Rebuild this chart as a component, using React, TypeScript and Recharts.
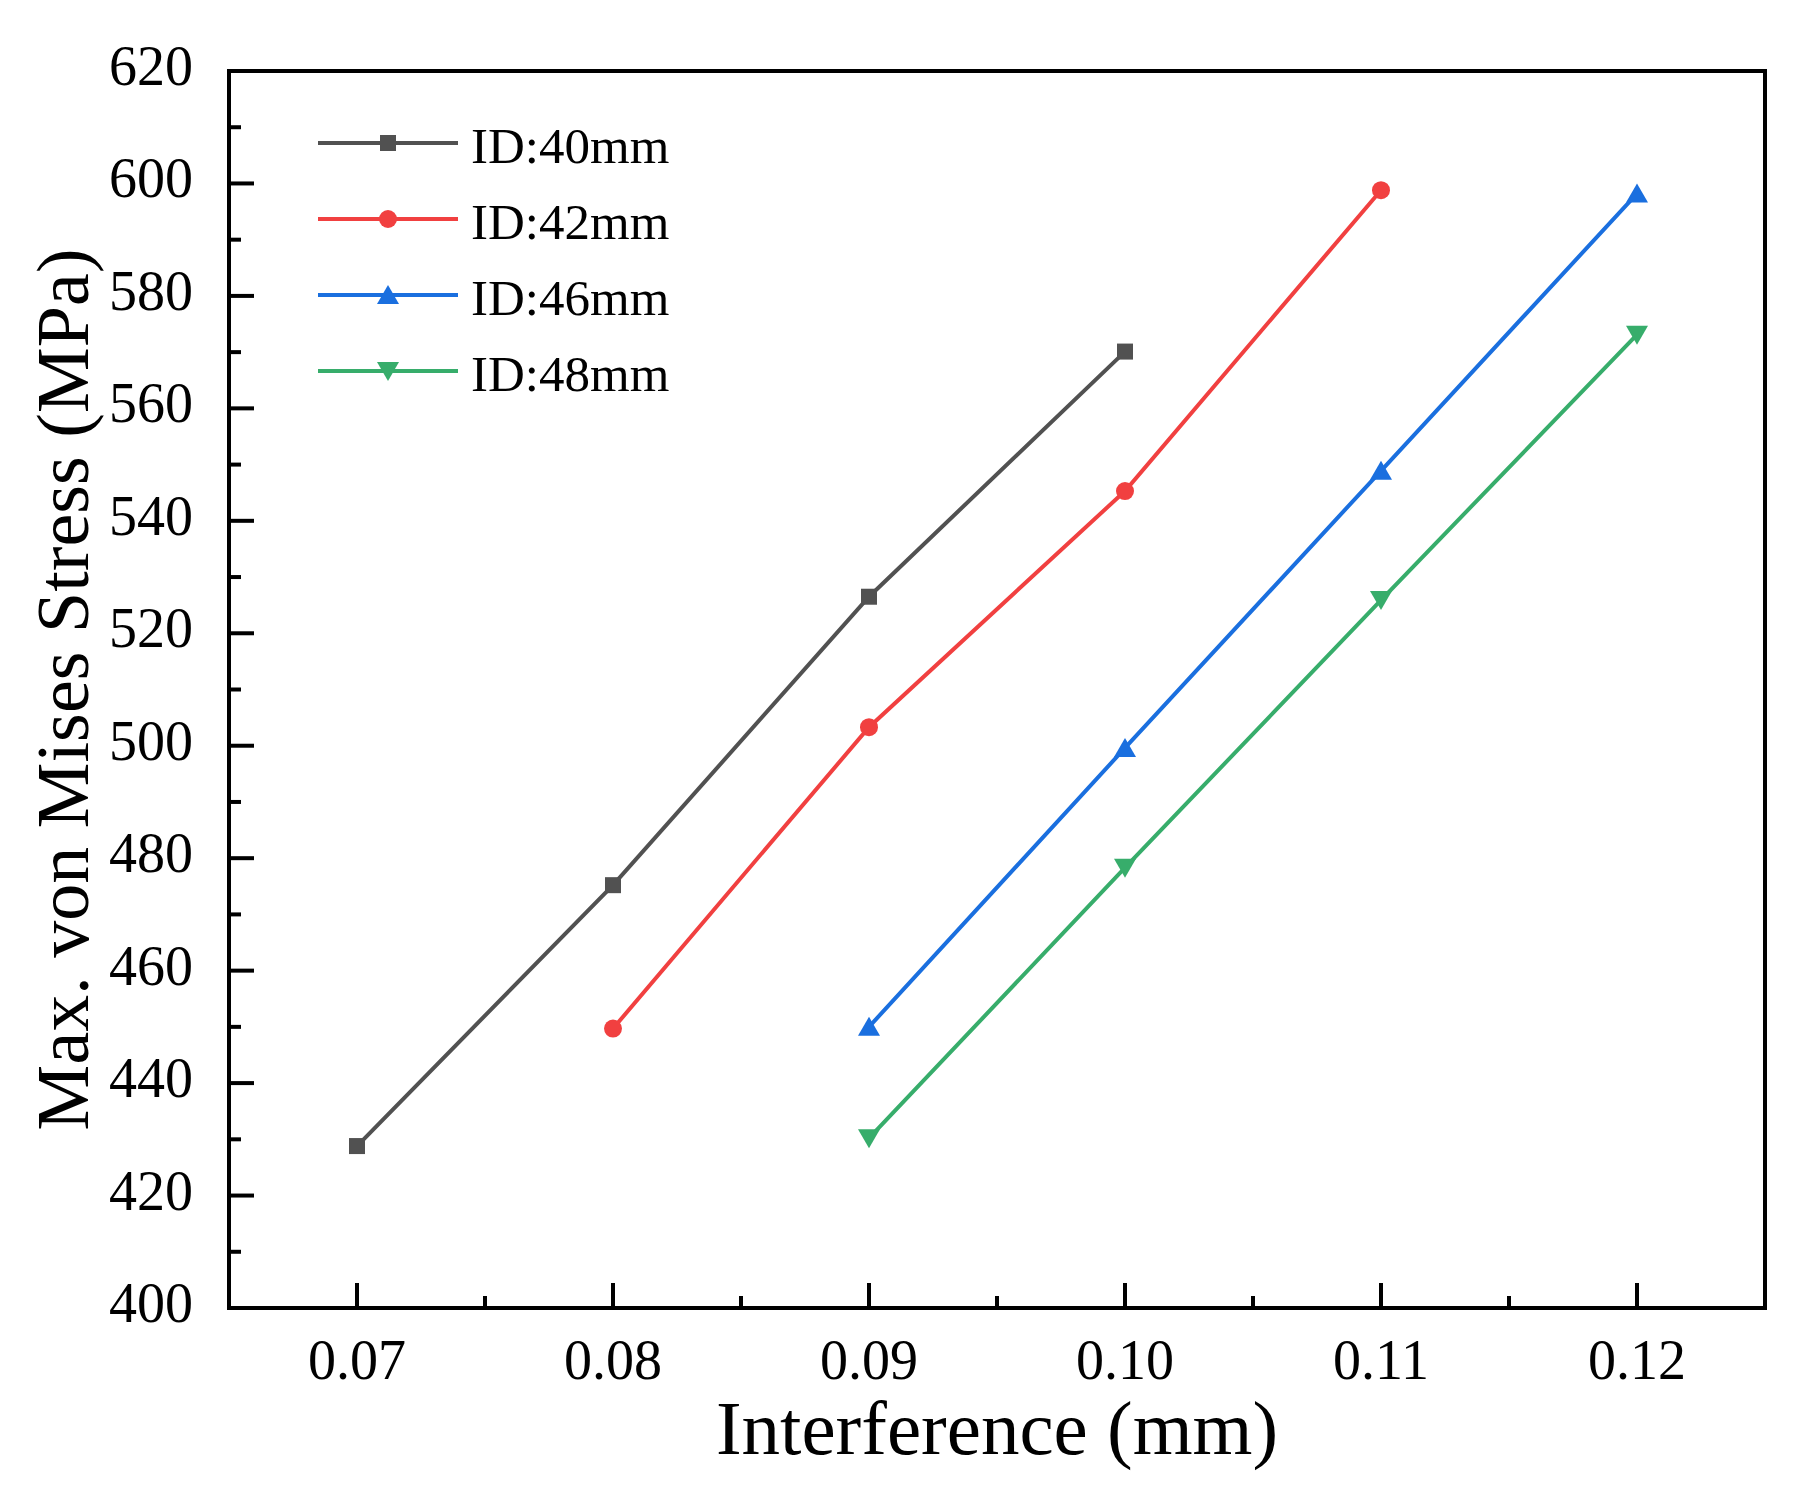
import React from 'react'
import { LineChart, Line, XAxis, YAxis, ReferenceLine, Legend, Label } from 'recharts'

// interference (mm) per series
const X_ID40 = [0.07, 0.08, 0.09, 0.1]
const X_ID42 = [0.08, 0.09, 0.1, 0.11]
const X_ID46 = [0.09, 0.1, 0.11, 0.12]
const X_ID48 = [0.09, 0.1, 0.11, 0.12]

// max. von Mises stress (MPa)
const Y_ID40 = [428.8, 475.2, 526.5, 570.1]
const Y_ID42 = [449.7, 503.3, 545.3, 598.8]
const Y_ID46 = [450.0, 499.6, 548.9, 598.2]
const Y_ID48 = [430.2, 478.3, 525.9, 573.1]

const X_TICKS = [0.07, 0.075, 0.08, 0.085, 0.09, 0.095, 0.1, 0.105, 0.11, 0.115, 0.12]
const Y_TICKS = [
  400, 410, 420, 430, 440, 450, 460, 470, 480, 490, 500, 510,
  520, 530, 540, 550, 560, 570, 580, 590, 600, 610, 620,
]

const FONT = '"Liberation Serif", "DejaVu Serif", serif'
const W = 1810
const H = 1495
const PLOT = { left: 229, top: 71, right: 1765, bottom: 1308 }

type Shape = 'square' | 'circle' | 'up' | 'down'

const zip = (xs: number[], ys: number[]) => xs.map((x, i) => ({ x, y: ys[i] }))

const SERIES: { name: string; color: string; shape: Shape; data: { x: number; y: number }[] }[] = [
  { name: 'ID:40mm', color: '#515151', shape: 'square', data: zip(X_ID40, Y_ID40) },
  { name: 'ID:42mm', color: '#F14040', shape: 'circle', data: zip(X_ID42, Y_ID42) },
  { name: 'ID:46mm', color: '#1A6FDF', shape: 'up', data: zip(X_ID46, Y_ID46) },
  { name: 'ID:48mm', color: '#37AD6B', shape: 'down', data: zip(X_ID48, Y_ID48) },
]

function Marker({ shape, cx, cy, color }: { shape: Shape; cx: number; cy: number; color: string }) {
  if (cx == null || cy == null) return null
  if (shape === 'square') return <rect x={cx - 8} y={cy - 8} width={16} height={16} fill={color} />
  if (shape === 'circle') return <circle cx={cx} cy={cy} r={9} fill={color} />
  if (shape === 'up')
    return <path d={`M${cx},${cy - 10} L${cx + 11},${cy + 9} L${cx - 11},${cy + 9} Z`} fill={color} />
  return <path d={`M${cx},${cy + 10} L${cx + 11},${cy - 9} L${cx - 11},${cy - 9} Z`} fill={color} />
}

const isMajorX = (v: number) => Math.abs(v * 100 - Math.round(v * 100)) < 1e-6

function XTick(props: any) {
  const { x, y, payload } = props
  const major = isMajorX(payload.value)
  return (
    <g>
      <line x1={x} x2={x} y1={y} y2={y - (major ? 25 : 12)} stroke="#000" strokeWidth={4} />
      {major && (
        <text x={x} y={y + 71} textAnchor="middle" fontFamily={FONT} fontSize={56} fill="#000">
          {payload.value.toFixed(2)}
        </text>
      )}
    </g>
  )
}

function YTick(props: any) {
  const { x, y, payload } = props
  const major = payload.value % 20 === 0
  return (
    <g>
      <line x1={x} x2={x + (major ? 25 : 12)} y1={y} y2={y} stroke="#000" strokeWidth={4} />
      {major && (
        <text x={x - 36} y={y + 14} textAnchor="end" fontFamily={FONT} fontSize={56} fill="#000">
          {payload.value}
        </text>
      )}
    </g>
  )
}

function LegendBox() {
  return (
    <svg width={420} height={320}>
      {SERIES.map((s, i) => {
        const cy = 43 + i * 76
        return (
          <g key={s.name}>
            <line x1={18} x2={158} y1={cy} y2={cy} stroke={s.color} strokeWidth={4} />
            <Marker shape={s.shape} cx={88} cy={cy} color={s.color} />
            <text x={171} y={cy + 20} fontFamily={FONT} fontSize={51} fill="#000">
              {s.name}
            </text>
          </g>
        )
      })}
    </svg>
  )
}

export default function App() {
  return (
    <div style={{ position: 'absolute', left: 0, top: 0, width: W, height: H, background: '#fff' }}>
      <LineChart
        width={W}
        height={H}
        margin={{ top: PLOT.top, right: W - PLOT.right, left: PLOT.left - 60, bottom: H - PLOT.bottom - 30 }}
      >
        <XAxis
          dataKey="x"
          type="number"
          domain={[0.065, 0.125]}
          ticks={X_TICKS}
          interval={0}
          allowDataOverflow
          height={30}
          tickSize={0}
          tickMargin={0}
          tick={<XTick />}
          axisLine={{ stroke: '#000', strokeWidth: 4, strokeLinecap: 'square' }}
        >
          <Label
            content={() => (
              <text
                x={(PLOT.left + PLOT.right) / 2}
                y={PLOT.bottom + 146}
                textAnchor="middle"
                fontFamily={FONT}
                fontSize={77}
                fill="#000"
              >
                Interference (mm)
              </text>
            )}
          />
        </XAxis>
        <YAxis
          dataKey="y"
          type="number"
          domain={[400, 620]}
          ticks={Y_TICKS}
          interval={0}
          allowDataOverflow
          width={60}
          tickSize={0}
          tickMargin={0}
          tick={<YTick />}
          axisLine={{ stroke: '#000', strokeWidth: 4, strokeLinecap: 'square' }}
        >
          <Label
            content={() => {
              const cy = (PLOT.top + PLOT.bottom) / 2
              return (
                <text
                  x={88}
                  y={cy}
                  transform={`rotate(-90, 88, ${cy})`}
                  textAnchor="middle"
                  fontFamily={FONT}
                  fontSize={74}
                  fill="#000"
                >
                  Max. von Mises Stress (MPa)
                </text>
              )
            }}
          />
        </YAxis>
        <ReferenceLine y={620} stroke="#000" strokeWidth={4} strokeLinecap="square" />
        <ReferenceLine x={0.125} stroke="#000" strokeWidth={4} strokeLinecap="square" />
        {SERIES.map((s) => (
          <Line
            key={s.name}
            data={s.data}
            dataKey="y"
            name={s.name}
            stroke={s.color}
            strokeWidth={4}
            isAnimationActive={false}
            activeDot={false}
            dot={(p: any) => (
              <Marker key={`${s.name}-${p.index}`} shape={s.shape} cx={p.cx} cy={p.cy} color={s.color} />
            )}
          />
        ))}
        <Legend
          layout="horizontal"
          verticalAlign="middle"
          align="center"
          content={() => <LegendBox />}
          wrapperStyle={{ position: 'absolute', left: 300, top: 100, width: 420, height: 320 }}
        />
      </LineChart>
    </div>
  )
}
